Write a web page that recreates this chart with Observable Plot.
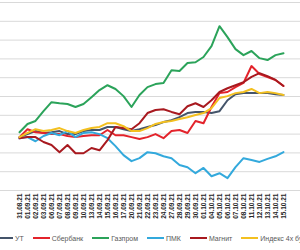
<!DOCTYPE html>
<html><head><meta charset="utf-8">
<script src="https://cdn.jsdelivr.net/npm/d3@7"></script>
<script src="https://cdn.jsdelivr.net/npm/@observablehq/plot@0.6"></script>
<style>
html,body{margin:0;padding:0;background:#fff;width:300px;height:250px;overflow:hidden;font-family:"Liberation Sans",Arial,sans-serif;}
#legend{position:relative;height:24px;width:300px;overflow:hidden;}
#legend .row{position:absolute;left:-4px;top:0;height:24px;display:flex;align-items:center;white-space:nowrap;font-size:7px;color:#595959;}
#legend .item{display:flex;align-items:center;margin-right:9px;}
#legend .sw{width:17px;height:2px;margin-right:2px;}
</style></head><body>
<div id="chart"></div>
<div id="legend"><div class="row"></div></div>
<script>
const dates = ["31.08.21","01.09.21","02.09.21","03.09.21","06.09.21","07.09.21","08.09.21","09.09.21","10.09.21","13.09.21","14.09.21","15.09.21","16.09.21","17.09.21","20.09.21","21.09.21","22.09.21","23.09.21","24.09.21","27.09.21","28.09.21","29.09.21","30.09.21","01.10.21","04.10.21","05.10.21","06.10.21","07.10.21","08.10.21","11.10.21","12.10.21","13.10.21","14.10.21","15.10.21"];
const seriesNames = ["УТ","Сбербанк","Газпром","ПМК","Магнит","Индекс 4х бумаг"];
const ut = [-0.8,0,0.8,0.3,0.5,0.8,0,0,0.8,1.1,1.1,1.9,1.9,1.3,0.8,1.3,1.9,2.4,3.2,3.7,4.5,5.6,5.9,5.9,5.6,6.1,9.0,10.6,10.9,10.9,10.9,10.9,10.6,10.4];
const sber = [-0.8,1.3,0.5,0.3,0,0,-0.5,-0.8,-0.5,-0.3,-0.3,1.1,-0.3,-0.3,-0.8,-1.3,-0.8,0,-1.1,0.8,1.1,0.3,3.5,2.9,7.2,10.9,11.2,12.5,13.6,18.1,16.0,15.2,14.4,12.8];
const gazprom = [0.5,2.7,3.5,6.1,8.5,8.2,8.0,7.2,8.0,9.8,11.7,13.0,12.0,10.1,7.2,10.4,12.5,13.3,13.6,17.0,16.8,18.9,19.1,20.5,23.4,28.7,25.8,22.6,21.0,22.1,20.2,19.7,21.0,21.5];
const pmk = [-1.1,-0.8,-1.9,-0.5,0.3,-0.3,0.8,-0.8,0.3,0.5,0,-1.1,-3.2,-5.6,-7.2,-6.4,-4.8,-5.1,-5.9,-6.4,-8.2,-8.8,-10.4,-9.0,-11.2,-10.4,-11.7,-8.8,-6.4,-6.9,-7.4,-6.6,-5.9,-4.8];
const magnit = [-1.1,-0.8,-0.8,-2.1,-2.9,-4.8,-2.9,-5.1,-5.1,-3.7,-4.3,-1.6,1.9,1.6,1.3,2.9,5.6,6.4,6.6,5.9,5.3,7.4,8.2,7.2,9.0,11.2,12.2,13.0,13.8,15.2,16.2,15.4,14.4,12.8];
const index4 = [-0.8,0.3,1.3,0.8,1.1,1.6,0.8,0.3,1.1,1.6,1.9,2.9,2.9,2.1,0.8,0.8,1.6,2.7,3.2,3.5,4.0,4.5,5.1,5.6,6.9,9.6,10.1,10.9,11.2,12.0,10.9,11.2,10.9,10.4];
const yTicks = [-15,-10,-5,0,5,10,15,20,25,30,35];
const palette = ["#44546a","#e3232b","#2ba35a","#33a9dc","#a8191f","#f3c020"];

const seriesValues = [ut, sber, gazprom, pmk, magnit, index4];
const data = seriesValues.flatMap((vals, s) => vals.map((v, i) => ({series: seriesNames[s], date: dates[i], value: v})));

const chart = Plot.plot({
  width: 300, height: 226,
  marginTop: 2, marginBottom: 36, marginLeft: 0, marginRight: 0,
  style: {fontFamily: "'Liberation Sans', Arial, sans-serif", background: "#fff"},
  x: {type: "point", domain: dates, insetLeft: 2, insetRight: 1, label: null},
  y: {domain: [-15, 35], axis: null},
  color: {domain: seriesNames, range: palette},
  marks: [
    Plot.ruleY(yTicks, {stroke: "#d9d9d9", strokeWidth: 1}),
    Plot.axisX({tickRotate: -90, tickSize: 0, tickPadding: 3, fontSize: 6.5, fill: "#262626", fontWeight: "bold", label: null}),
    Plot.line(data, {x: "date", y: "value", z: "series", stroke: "series", strokeWidth: 2, strokeLinejoin: "round", strokeLinecap: "round"})
  ]
});
document.getElementById("chart").appendChild(chart);

const row = document.querySelector("#legend .row");
seriesNames.forEach((n, i) => {
  const it = document.createElement("div"); it.className = "item";
  const sw = document.createElement("span"); sw.className = "sw"; sw.style.background = palette[i];
  const tx = document.createElement("span"); tx.textContent = n;
  it.appendChild(sw); it.appendChild(tx); row.appendChild(it);
});
</script>
</body></html>
